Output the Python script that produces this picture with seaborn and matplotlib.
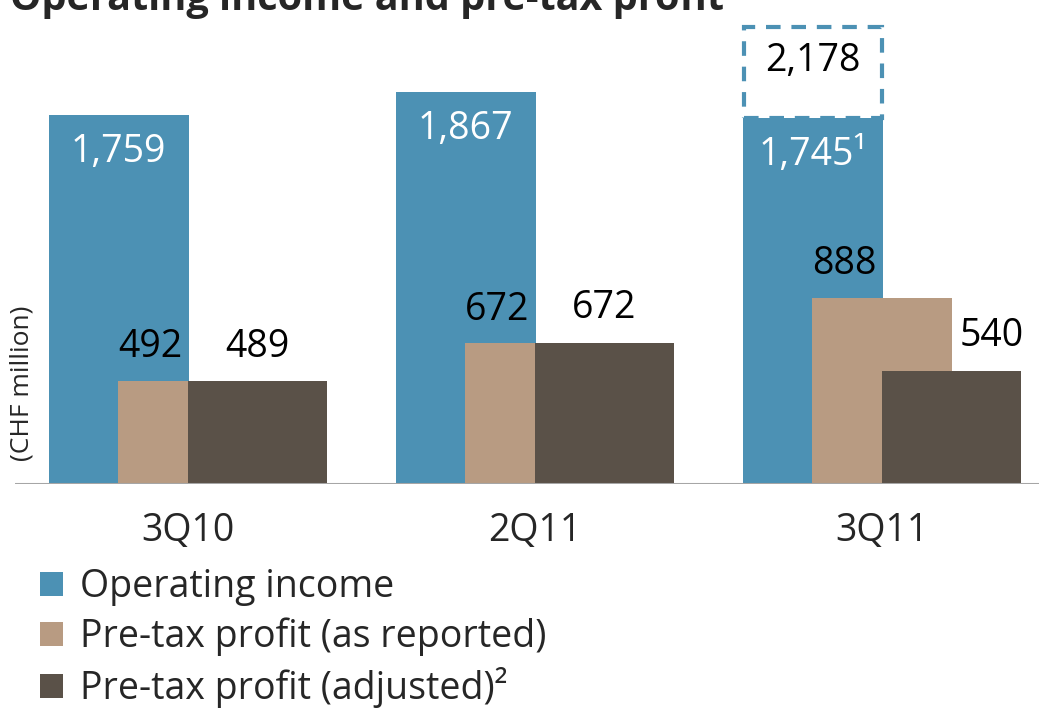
import numpy as np
import pandas as pd
import matplotlib
matplotlib.use("Agg")
import matplotlib.pyplot as plt
import seaborn as sns

# data
quarters = ["3Q10", "2Q11", "3Q11"]
operating_income = [1759, 1867, 1745]
pretax_reported = [492, 672, 888]
pretax_adjusted = [489, 672, 540]
operating_income_adj = 2178  # 3Q11 before footnote 1 adjustment
op_marks = ["", "", "\u00b9"]
series_names = ["Operating income", "Pre-tax profit (as reported)",
                "Pre-tax profit (adjusted)\u00b2"]

BLUE = "#4c91b4"
TAN = "#b89b82"
DARK = "#5a5148"


def main():
    sns.set_style("white")
    plt.rcParams["font.family"] = ["Open Sans", "DejaVu Sans"]

    fig = plt.figure(figsize=(10.39, 7.10), dpi=100)
    ax = fig.add_axes([15 / 1039, 226 / 710, 1024 / 1039, 484 / 710])

    idx = np.arange(len(quarters))
    offset = 0.2
    width = 0.403

    # three overlapping series, drawn back to front
    for vals, col, name, off in [
        (operating_income, BLUE, series_names[0], -offset),
        (pretax_reported, TAN, series_names[1], 0.0),
        (pretax_adjusted, DARK, series_names[2], offset),
    ]:
        df = pd.DataFrame({"x": idx + off, "y": vals})
        sns.barplot(data=df, x="x", y="y", native_scale=True, width=width,
                    color=col, saturation=1, linewidth=0, label=name, ax=ax)

    # dashed box for the unadjusted 3Q11 operating income
    ax.bar(idx[2] - offset, operating_income_adj - operating_income[2],
           bottom=operating_income[2], width=width * 0.985, fill=False,
           edgecolor=BLUE, linewidth=3, linestyle=(0, (3.5, 2.6)), zorder=0.5)
    ax.text(idx[2] - offset, operating_income_adj - 165,
            f"{operating_income_adj:,}", ha="center", va="center",
            fontsize=27, color="black")

    # value labels
    for i in idx:
        ax.annotate(f"{operating_income[i]:,}{op_marks[i]}",
                    (i - offset, operating_income[i]), xytext=(0, -27),
                    textcoords="offset points", ha="center", va="center",
                    fontsize=27, color="white")
        ax.annotate(f"{pretax_reported[i]:,}", (i - offset / 2 - 0.01, pretax_reported[i]),
                    xytext=(0, 24), textcoords="offset points",
                    ha="center", va="center", fontsize=27, color="black")
    dark_shift = [0, 0, 0.115]
    for i in idx:
        ax.annotate(f"{pretax_adjusted[i]:,}", (i + offset + dark_shift[i], pretax_adjusted[i]),
                    xytext=(0, 25), textcoords="offset points",
                    ha="center", va="center", fontsize=27, color="black")

    ax.axhline(0, color="#a6a6a6", linewidth=2.2, zorder=5)
    ax.set_xlim(-0.4986, 2.452)
    ax.set_ylim(0, 484 / 0.21)
    ax.set_xticks(idx)
    ax.set_xticklabels(quarters, fontsize=27)
    ax.tick_params(axis="x", length=0, pad=20)
    ax.set_yticks([])
    ax.set_xlabel("")
    ax.set_ylabel("")
    for s in ax.spines.values():
        s.set_visible(False)
    ax.patch.set_alpha(0)
    if ax.get_legend() is not None:
        ax.get_legend().remove()

    fig.text(22 / 1039, 1 - 383 / 710, "(CHF million)", rotation=90,
             ha="center", va="center", fontsize=19)
    fig.text(10 / 1039, 1 - 10 / 710, "Operating income and pre-tax profit",
             ha="left", va="baseline", fontsize=28.5, fontweight="bold")

    handles, labels = ax.get_legend_handles_labels()
    fig.legend(handles[:3], labels[:3], loc="upper left",
               bbox_to_anchor=(40 / 1039, 1 - 568 / 710), fontsize=27,
               frameon=False, handlelength=0.62, handleheight=0.62,
               handletextpad=0.45, labelspacing=0.3, borderpad=0,
               borderaxespad=0)

    fig.savefig("out.png", dpi=100)


if __name__ == "__main__":
    main()
